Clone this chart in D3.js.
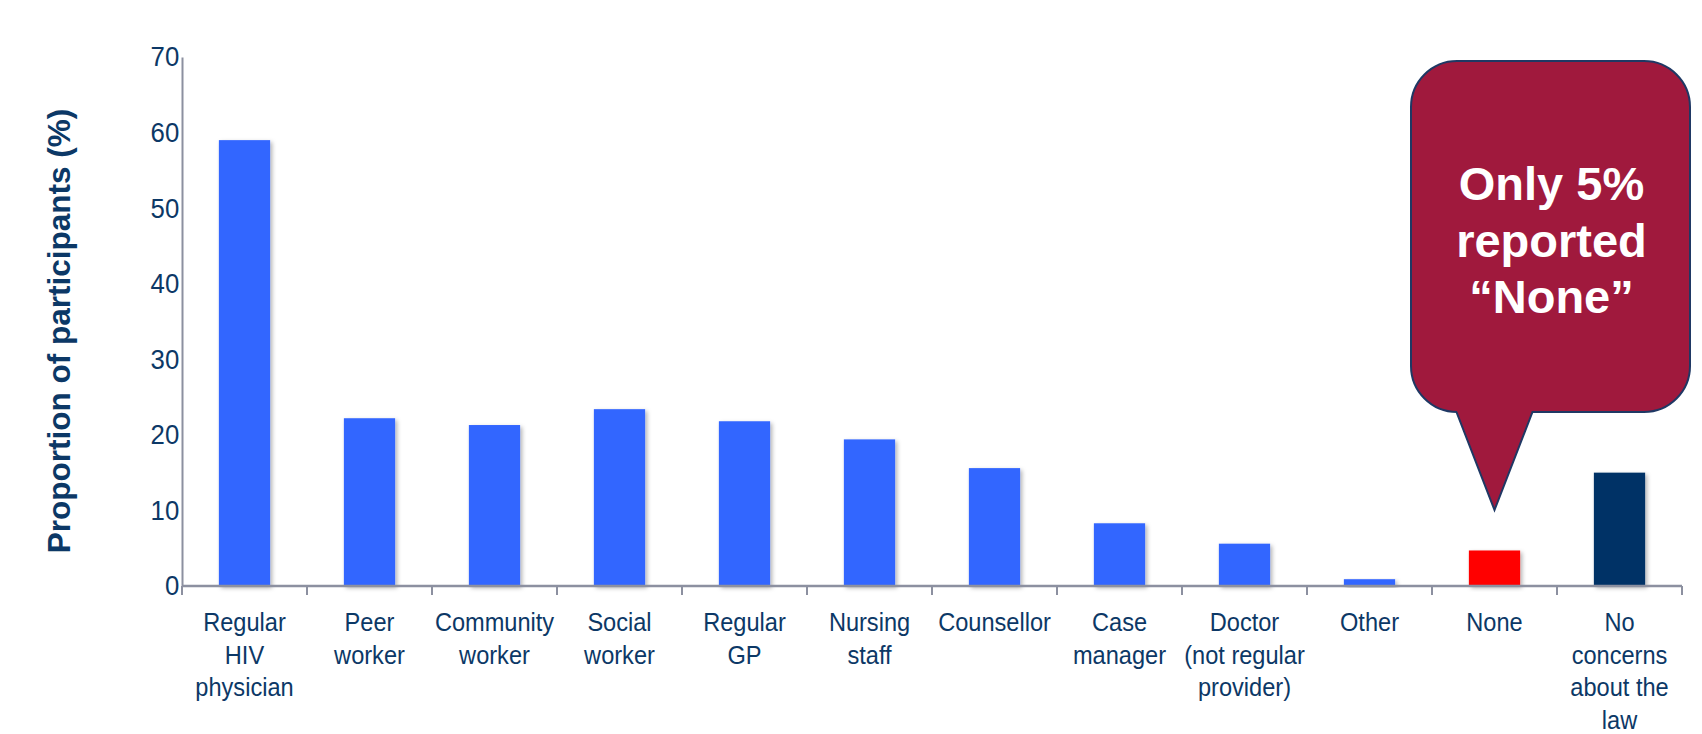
<!DOCTYPE html>
<html>
<head>
<meta charset="utf-8">
<style>
  body { margin: 0; background: #fff; }
  svg text { font-family: "Liberation Sans", Arial, sans-serif; }
  .lab { fill: #0c3866; font-size: 26.5px; }
  .ylab { fill: #0c3866; font-size: 28px; }
  .ytitle { fill: #0c3866; font-size: 31.5px; font-weight: bold; }
  .callout-text { fill: #fff; font-size: 47px; font-weight: bold; }
</style>
<script src="https://cdn.jsdelivr.net/npm/d3@7"></script>
</head>
<body>
<svg id="chart" width="1702" height="734"></svg>
<script>
// data
const categories = [
  ["Regular", "HIV", "physician"],
  ["Peer", "worker"],
  ["Community", "worker"],
  ["Social", "worker"],
  ["Regular", "GP"],
  ["Nursing", "staff"],
  ["Counsellor"],
  ["Case", "manager"],
  ["Doctor", "(not regular", "provider)"],
  ["Other"],
  ["None"],
  ["No", "concerns", "about the", "law"]
];
const values = [59.0, 22.2, 21.3, 23.4, 21.8, 19.4, 15.6, 8.3, 5.6, 0.9, 4.7, 15.0];
const kinds = ["source", "source", "source", "source", "source", "source",
               "source", "source", "source", "source", "none", "noConcern"];
const yTicks = [0, 10, 20, 30, 40, 50, 60, 70];
const calloutLines = ["Only 5%", "reported", "\u201cNone\u201d"];

const svg = d3.select("#chart");
const ids = categories.map((c, i) => "c" + i);

const x = d3.scaleBand()
  .domain(ids)
  .range([182, 1682])
  .paddingInner(0.59)
  .paddingOuter(0.295);
const y = d3.scaleLinear().domain([0, 70]).range([586, 57]);
const color = d3.scaleOrdinal()
  .domain(["source", "none", "noConcern"])
  .range(["#3366ff", "#ff0000", "#003366"]);

// soft shadow on the bars
const defs = svg.append("defs");
defs.append("filter").attr("id", "shadow")
  .attr("x", "-20%").attr("y", "-5%").attr("width", "150%").attr("height", "120%")
  .append("feDropShadow")
  .attr("dx", 2).attr("dy", 2).attr("stdDeviation", 2)
  .attr("flood-color", "#000").attr("flood-opacity", 0.3);

// bars
svg.append("g")
  .selectAll("rect")
  .data(values)
  .join("rect")
    .attr("x", (d, i) => x(ids[i]))
    .attr("y", d => y(d))
    .attr("width", x.bandwidth())
    .attr("height", d => y(0) - y(d))
    .attr("fill", (d, i) => color(kinds[i]))
    .attr("filter", "url(#shadow)");

// y axis
const yAxis = svg.append("g")
  .attr("transform", `translate(${x.range()[0]},0)`)
  .call(d3.axisLeft(y).tickValues(yTicks).tickSize(0).tickPadding(3));
yAxis.select(".domain").attr("stroke", "#8c90a0").attr("stroke-width", 2);
yAxis.selectAll("text")
  .attr("class", "ylab")
  .attr("transform", "scale(0.92,1)")
  .style("font-family", "Liberation Sans, Arial, sans-serif");

// x axis line and ticks at band edges
const step = x.step();
const x0 = x.range()[0];
const xAxis = svg.append("g");
xAxis.append("line")
  .attr("x1", x0).attr("x2", x.range()[1])
  .attr("y1", y(0)).attr("y2", y(0))
  .attr("stroke", "#8c90a0").attr("stroke-width", 2.5);
xAxis.selectAll("line.tick")
  .data(d3.range(categories.length + 1))
  .join("line")
    .attr("class", "tick")
    .attr("x1", i => x0 + i * step).attr("x2", i => x0 + i * step)
    .attr("y1", y(0)).attr("y2", y(0) + 9)
    .attr("stroke", "#8c90a0").attr("stroke-width", 2);

// category labels
const labels = svg.append("g")
  .selectAll("text")
  .data(categories)
  .join("text")
    .attr("class", "lab")
    .attr("text-anchor", "middle")
    .attr("transform", (d, i) => `translate(${x(ids[i]) + x.bandwidth() / 2},631) scale(0.89,1)`);
labels.selectAll("tspan")
  .data(d => d)
  .join("tspan")
    .attr("x", 0)
    .attr("y", (d, j) => j * 32.6)
    .text(d => d);

// y axis title
svg.append("text")
  .attr("class", "ytitle")
  .attr("text-anchor", "middle")
  .attr("transform", "translate(70,331) rotate(-90)")
  .text("Proportion of participants (%)");

// callout bubble pointing at the "None" bar
const noneX = x(ids[10]) + x.bandwidth() / 2;
const bx0 = 1411, bx1 = 1690, by0 = 61, by1 = 412, r = 46;
const tipY = 510;
const p = d3.path();
p.moveTo(bx0 + r, by0);
p.lineTo(bx1 - r, by0);
p.arcTo(bx1, by0, bx1, by0 + r, r);
p.lineTo(bx1, by1 - r);
p.arcTo(bx1, by1, bx1 - r, by1, r);
p.lineTo(noneX + 38, by1);
p.lineTo(noneX, tipY);
p.lineTo(noneX - 38, by1);
p.lineTo(bx0 + r, by1);
p.arcTo(bx0, by1, bx0, by1 - r, r);
p.lineTo(bx0, by0 + r);
p.arcTo(bx0, by0, bx0 + r, by0, r);
p.closePath();
svg.append("path")
  .attr("d", p.toString())
  .attr("fill", "#a0193d")
  .attr("stroke", "#1f3864")
  .attr("stroke-width", 2);

svg.append("g")
  .selectAll("text")
  .data(calloutLines)
  .join("text")
    .attr("class", "callout-text")
    .attr("text-anchor", "middle")
    .attr("x", (bx0 + bx1) / 2 + 1)
    .attr("y", (d, i) => 200 + i * 56.5)
    .text(d => d);
</script>
</body>
</html>
